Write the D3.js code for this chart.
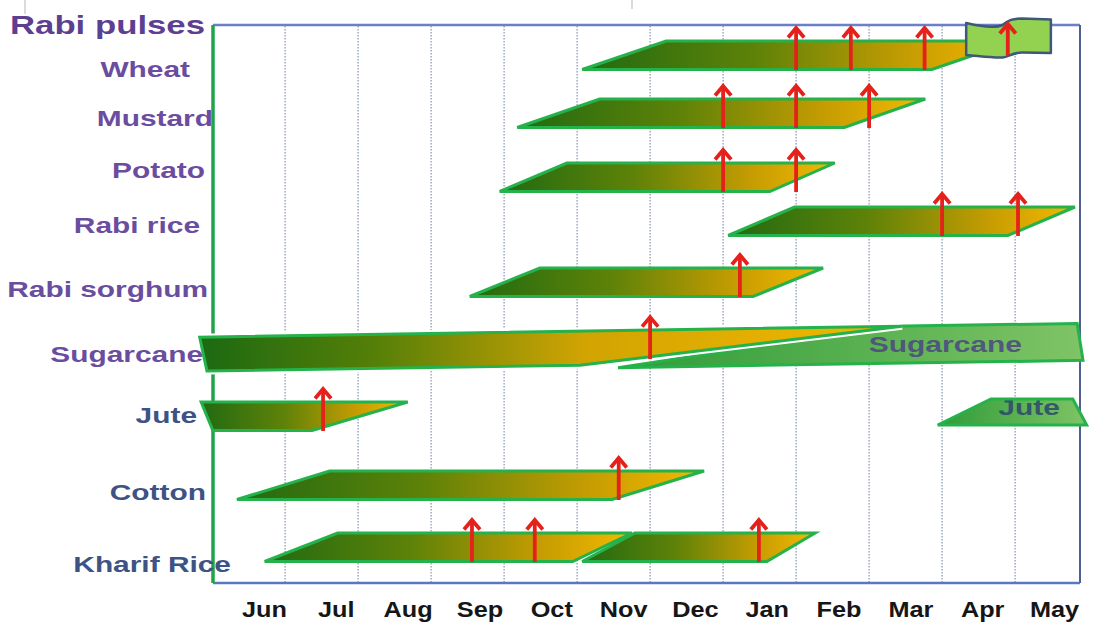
<!DOCTYPE html>
<html>
<head>
<meta charset="utf-8">
<script src="https://cdn.jsdelivr.net/npm/d3@7"></script>
<style>
  html, body { margin: 0; padding: 0; background: #ffffff; }
  svg { display: block; }
  text { font-family: "Liberation Sans", Arial, sans-serif; font-weight: bold; }
</style>
</head>
<body>
<svg id="chart" width="1096" height="627"></svg>
<script>
// Crop calendar. Time runs in months counted from 1 May (0) to the next 1 May (12).

// Month tick labels (each sits at the close of its month) and the dotted month boundaries
const monthLabels = ["Jun", "Jul", "Aug", "Sep", "Oct", "Nov", "Dec", "Jan", "Feb", "Mar", "Apr", "May"];
const monthBoundaries = [1, 2, 3, 4, 5, 6, 7, 8, 9, 10, 11];

// Rows, top to bottom
const rowNames = ["Rabi pulses", "Wheat", "Mustard", "Potato", "Rabi rice", "Rabi sorghum",
                  "Sugarcane", "Jute", "Cotton", "Kharif Rice"];
const kharifRows = ["Jute", "Cotton", "Kharif Rice"];

// Growing seasons: the lower edge runs lowStart -> lowEnd, the upper edge highStart -> highEnd
// (the left slope is the sowing window, the right slope the harvest window)
const seasonCrop = ["Wheat", "Mustard", "Potato", "Rabi rice", "Rabi sorghum",
                    "Sugarcane", "Jute", "Cotton", "Kharif Rice", "Kharif Rice"];
const lowStart  = [5.07, 4.18, 3.94, 7.07, 3.53, -0.07,  0.01, 0.34, 0.72, 5.07];
const highStart = [6.22, 5.31, 4.86, 7.98, 4.49, -0.17, -0.15, 1.61, 1.72, 5.79];
const highEnd   = [11.0, 9.77, 8.53, 11.82, 8.37, 9.45,  2.68, 6.74, 5.75, 8.26];
const lowEnd    = [9.86, 8.66, 7.64, 10.90, 7.41, 5.04,  1.37, 5.48, 4.94, 7.60];

// Next season's planting, carried on the same row
const nextCrop      = ["Sugarcane", "Jute"];
const nextLowStart  = [5.56, 9.94];
const nextHighStart = [9.28, 10.67];
const nextHighEnd   = [11.85, 11.79];
const nextLowEnd    = [11.93, 11.98];

// Rabi pulses window (flag)
const pulsesWindow = [10.33, 11.49];

// Critical stages (red arrows)
const stageCrop  = ["Rabi pulses", "Wheat", "Wheat", "Wheat", "Mustard", "Mustard", "Mustard",
                    "Potato", "Potato", "Rabi rice", "Rabi rice", "Rabi sorghum", "Sugarcane",
                    "Jute", "Cotton", "Kharif Rice", "Kharif Rice", "Kharif Rice"];
const stageMonth = [10.9, 8.0, 8.75, 9.76, 7.0, 8.0, 9.0,
                    7.0, 8.0, 10.0, 11.04, 7.23, 6.0,
                    1.52, 5.57, 3.56, 4.42, 7.49];

// ---------------------------------------------------------------- layout
const plot = { left: 213, right: 1080, top: 25, bottom: 583 };

const x = d3.scaleLinear().domain([0, 12]).range([212.1, 1088.1]);

// vertical position of each row's band (top edge)
const rowTop = d3.scaleOrdinal()
  .domain(rowNames)
  .range([18, 41, 99, 163, 207, 268, 337, 402, 471, 533]);
const bandHeight = crop => crop === "Sugarcane" ? 34 : 28.5;
// the sugarcane band is drawn slightly tilted
const rowTilt = crop => crop === "Sugarcane" ? -0.0157 : 0;
const topAt = (crop, px) => rowTop(crop) + rowTilt(crop) * (px - x(0));

// row label placement (right end, baseline)
const labelEnd = d3.scaleOrdinal().domain(rowNames)
  .range([205, 190, 213, 205, 200, 208, 203, 197, 206, 231]);
const labelBase = d3.scaleOrdinal().domain(rowNames)
  .range([34, 77, 126, 178, 233, 297, 362, 423, 500, 572]);

// month labels
const monthPos = d3.scalePoint().domain(monthLabels).range([264, 1054]);

const svg = d3.select("#chart");
const defs = svg.append("defs");

function gradient(id, stops) {
  const g = defs.append("linearGradient").attr("id", id)
    .attr("x1", "0%").attr("x2", "100%").attr("y1", "0%").attr("y2", "0%");
  stops.forEach(([o, c]) => g.append("stop").attr("offset", o).attr("stop-color", c));
}
gradient("ripen", [[0, "#216a12"], [0.4, "#5e8208"], [0.75, "#c59c02"], [1, "#f5b900"]]);
gradient("ripenLong", [[0, "#1c6912"], [0.25, "#557f08"], [0.55, "#d2a402"], [1, "#f3b800"]]);
gradient("sprout", [[0, "#2f9b38"], [1, "#7fc466"]]);

// faint header frame above the chart
svg.append("g").attr("stroke", "#cfcfcf").attr("stroke-width", 1.5)
  .selectAll("line").data([[25, 14], [632, 9]]).join("line")
  .attr("x1", d => d[0]).attr("x2", d => d[0]).attr("y1", 0).attr("y2", d => d[1]);

// month boundaries
svg.append("g")
  .selectAll("line").data(monthBoundaries).join("line")
  .attr("x1", d => x(d)).attr("x2", d => x(d))
  .attr("y1", plot.top + 1).attr("y2", plot.bottom - 1)
  .attr("stroke", "#8595b3").attr("stroke-width", 1.2)
  .attr("stroke-dasharray", "1.5,1.5");

// frame
const frame = svg.append("g").attr("fill", "none");
frame.append("line").attr("x1", plot.left).attr("x2", plot.right).attr("y1", plot.top).attr("y2", plot.top)
  .attr("stroke", "#6a80c8").attr("stroke-width", 2.5);
frame.append("line").attr("x1", plot.right).attr("x2", plot.right).attr("y1", plot.top).attr("y2", plot.bottom)
  .attr("stroke", "#4f5f90").attr("stroke-width", 2);
frame.append("line").attr("x1", plot.left).attr("x2", plot.right).attr("y1", plot.bottom).attr("y2", plot.bottom)
  .attr("stroke", "#5a78c2").attr("stroke-width", 2.5);
frame.append("line").attr("x1", plot.left).attr("x2", plot.left).attr("y1", plot.top).attr("y2", plot.bottom)
  .attr("stroke", "#21a34a").attr("stroke-width", 3.5);

const polygon = d3.line().curve(d3.curveLinearClosed);

function quad(crop, a, b, c, d, raise = 0, h = bandHeight(crop)) {
  const xa = x(a), xb = x(b), xc = x(c), xd = x(d);
  return polygon([
    [xa, topAt(crop, xa) + h - raise],
    [xb, topAt(crop, xb) - raise],
    [xc, topAt(crop, xc) - raise],
    [xd, topAt(crop, xd) + h - raise]
  ]);
}

// seasons
const seasons = seasonCrop.map((crop, i) => ({
  crop, a: lowStart[i], b: highStart[i], c: highEnd[i], d: lowEnd[i]
}));
const nexts = nextCrop.map((crop, i) => ({
  crop, a: nextLowStart[i], b: nextHighStart[i], c: nextHighEnd[i], d: nextLowEnd[i]
}));

const bars = svg.append("g");
bars.selectAll("path.season").data(seasons.filter(s => s.crop !== "Sugarcane")).join("path")
  .attr("class", "season")
  .attr("d", s => quad(s.crop, s.a, s.b, s.c, s.d))
  .attr("fill", "url(#ripen)")
  .attr("stroke", "#25b24b").attr("stroke-width", 3).attr("stroke-linejoin", "miter");

// next season plantings, with their names inside
const nextRaise = crop => crop === "Jute" ? 3 : 0;
const nextHeight = crop => crop === "Jute" ? 26 : 37;
const nextG = bars.selectAll("g.next").data(nexts).join("g").attr("class", "next");
nextG.append("path")
  .attr("d", s => quad(s.crop, s.a, s.b, s.c, s.d, nextRaise(s.crop), nextHeight(s.crop)))
  .attr("fill", "url(#sprout)");
const innerEnd = { "Sugarcane": 1022, "Jute": 1060 };
const innerBase = { "Sugarcane": 352, "Jute": 415 };
nextG.append("text")
  .attr("transform", s => `translate(${innerEnd[s.crop]},${innerBase[s.crop]}) scale(1.395,1)`)
  .attr("text-anchor", "end")
  .attr("font-size", 21.5)
  .attr("fill", s => s.crop === "Jute" ? "#2c4b6c" : "#4d4a80")
  .attr("fill-opacity", 0.9)
  .text(s => s.crop);
nextG.append("path")
  .attr("d", s => quad(s.crop, s.a, s.b, s.c, s.d, nextRaise(s.crop), nextHeight(s.crop)))
  .attr("fill", "none")
  .attr("stroke", "#25b24b").attr("stroke-width", 3).attr("stroke-linejoin", "miter");

// the standing sugarcane crop sits above next season's planting, edged in white
const cane = seasons.filter(s => s.crop === "Sugarcane");
bars.selectAll("path.caneHalo").data(cane).join("path")
  .attr("class", "caneHalo")
  .attr("d", s => quad(s.crop, s.a, s.b, s.c, s.d))
  .attr("fill", "none")
  .attr("stroke", "#ffffff").attr("stroke-width", 7).attr("stroke-linejoin", "miter");
bars.selectAll("path.cane").data(cane).join("path")
  .attr("class", "cane")
  .attr("d", s => quad(s.crop, s.a, s.b, s.c, s.d))
  .attr("fill", "url(#ripenLong)")
  .attr("stroke", "#25b24b").attr("stroke-width", 3).attr("stroke-linejoin", "miter");

// Rabi pulses flag
const fx0 = x(pulsesWindow[0]), fx1 = x(pulsesWindow[1]), fw = fx1 - fx0, ft = rowTop("Rabi pulses");
const flagPath = d3.path();
flagPath.moveTo(fx0, ft + 5);
flagPath.bezierCurveTo(fx0 + 0.2 * fw, ft + 9, fx0 + 0.35 * fw, ft + 10, fx0 + 0.43 * fw, ft + 7);
flagPath.bezierCurveTo(fx0 + 0.5 * fw, ft + 2, fx0 + 0.55 * fw, ft + 0.5, fx0 + 0.66 * fw, ft + 0.5);
flagPath.lineTo(fx1, ft + 1.5);
flagPath.lineTo(fx1, ft + 35);
flagPath.lineTo(fx0 + 0.66 * fw, ft + 34.5);
flagPath.bezierCurveTo(fx0 + 0.55 * fw, ft + 34.5, fx0 + 0.5 * fw, ft + 39, fx0 + 0.43 * fw, ft + 39.5);
flagPath.bezierCurveTo(fx0 + 0.3 * fw, ft + 40, fx0 + 0.15 * fw, ft + 38, fx0, ft + 37);
flagPath.closePath();
svg.append("path").attr("d", flagPath.toString())
  .attr("fill", "#93d150").attr("stroke", "#3e5877").attr("stroke-width", 2.5)
  .attr("stroke-linejoin", "round");

// critical stage arrows
const stages = stageCrop.map((crop, i) => ({ crop, m: stageMonth[i] }));
const arrows = svg.append("g")
  .attr("stroke", "#e5211b").attr("fill", "none").attr("stroke-width", 3.8);
arrows.selectAll("g").data(stages).join("g").each(function (s) {
  const px = x(s.m);
  const top = s.crop === "Rabi pulses" ? ft : topAt(s.crop, px);
  const yTop = s.crop === "Rabi pulses" ? top + 5 : top - 14;
  const yBot = s.crop === "Rabi pulses" ? top + 37 : top + 29;
  const g = d3.select(this);
  g.append("line").attr("x1", px).attr("x2", px).attr("y1", yBot).attr("y2", yTop + 2);
  g.append("path").attr("d", `M${px - 8},${yTop + 10.5}L${px},${yTop + 1}L${px + 8},${yTop + 10.5}`)
    .attr("stroke-linejoin", "miter");
});

// row labels
svg.append("g").selectAll("text").data(rowNames).join("text")
  .attr("transform", d => `translate(${labelEnd(d)},${labelBase(d)}) scale(1.39,1)`)
  .attr("text-anchor", "end")
  .attr("font-size", d => d === "Rabi pulses" ? 25 : 21.5)
  .attr("fill", d => kharifRows.includes(d) ? "#3d5285" : (d === "Rabi pulses" ? "#5d3f91" : "#6a4d9e"))
  .text(d => d);

// month axis
const axis = svg.append("g").attr("transform", "translate(0,617)")
  .call(d3.axisBottom(monthPos).tickSize(0).tickPadding(0));
axis.select(".domain").remove();
axis.selectAll("text")
  .attr("y", 0).attr("dy", 0)
  .attr("transform", "scale(1.15,1)")
  .attr("font-size", 22)
  .attr("font-family", "'Liberation Sans', Arial, sans-serif")
  .attr("font-weight", "bold")
  .attr("fill", "#161616");
</script>
</body>
</html>
